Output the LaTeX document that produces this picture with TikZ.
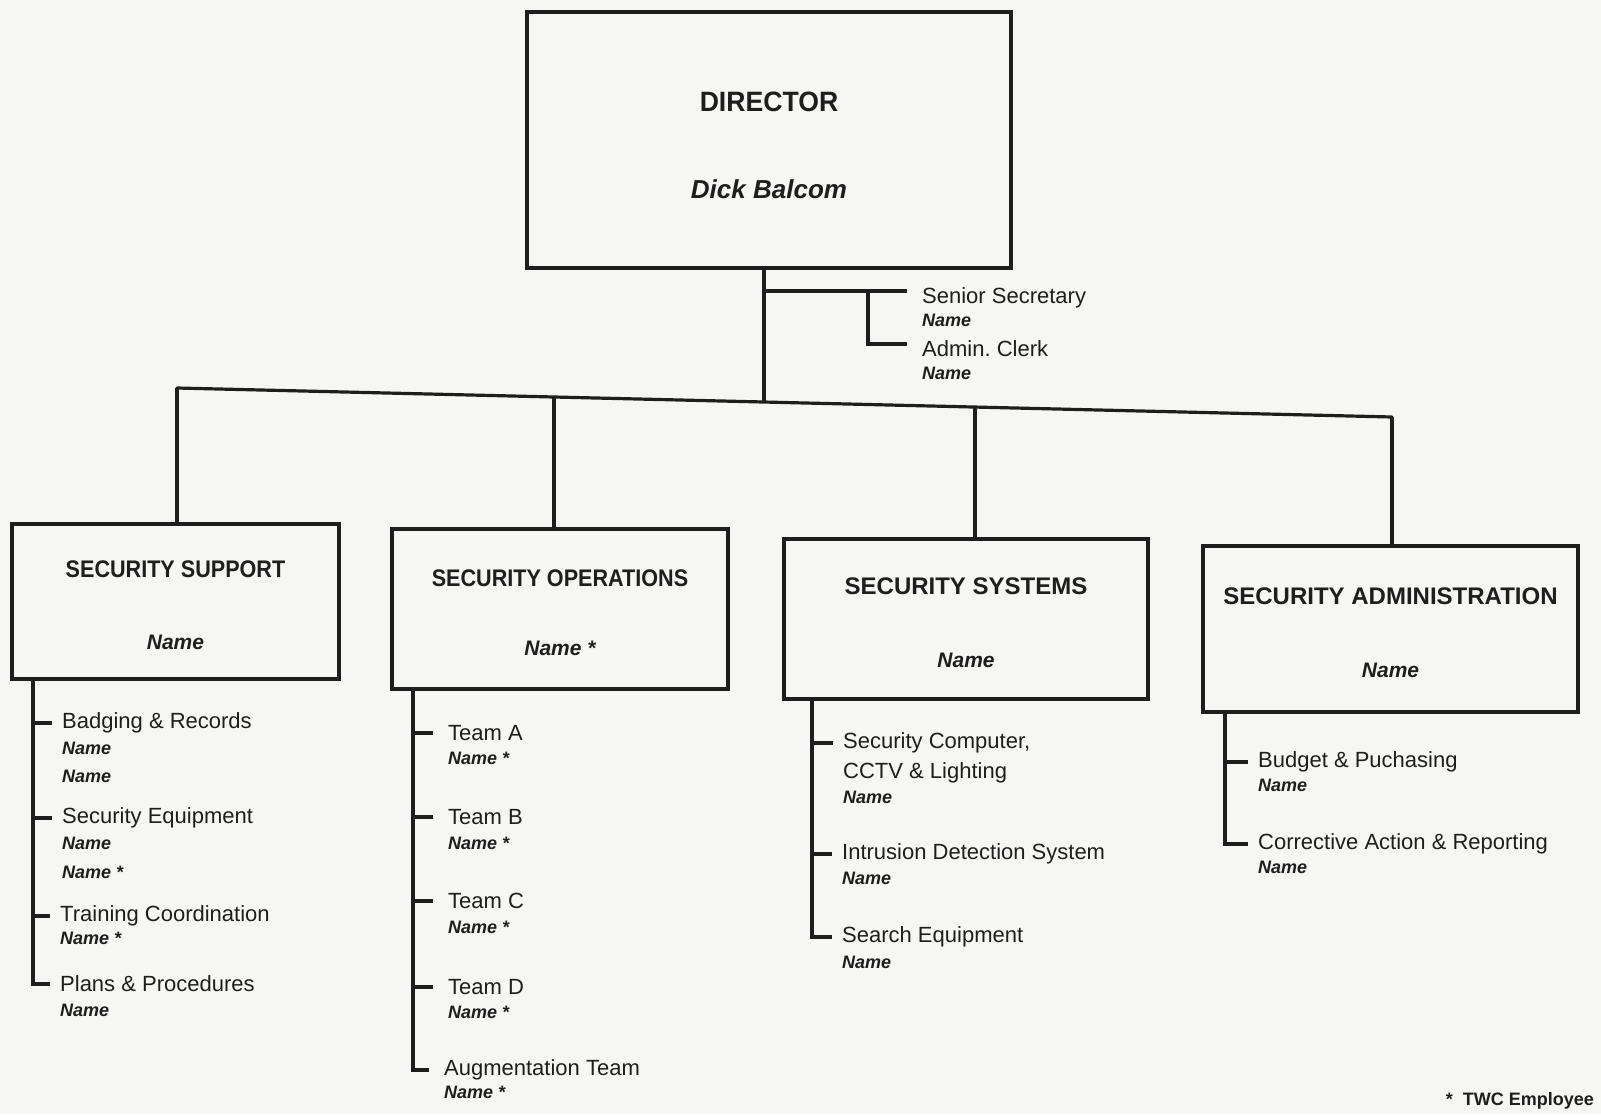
\documentclass[tikz,border=0pt]{standalone}
\usepackage{fontspec}
\setmainfont{Liberation Sans}
\newfontfamily\ttlfont[FakeStretch=0.9]{Liberation Sans}
\newfontfamily\dirfont[FakeStretch=0.95]{Liberation Sans}
\definecolor{ink}{RGB}{30,30,30}
\definecolor{paper}{RGB}{246,246,244}
\newcommand\dirf{\fontsize{28}{34}\selectfont\dirfont\bfseries}
\newcommand\deptf{\fontsize{24}{29}\selectfont\ttlfont\bfseries}
\newcommand\deptwf{\fontsize{24}{29}\selectfont\rmfamily\bfseries}
\newcommand\bnamef{\fontsize{21}{25}\selectfont\rmfamily\bfseries\itshape}
\newcommand\dnamef{\fontsize{26}{31}\selectfont\rmfamily\bfseries\itshape}
\newcommand\toppad[1]{\rule{0pt}{#1}}
\begin{document}
\begin{tikzpicture}[x=1pt,y=-1pt,
  box/.style={draw=ink, line width=3.2pt, rectangle, align=center, inner sep=0pt, text=ink},
  ln/.style={draw=ink, line width=3.2pt},
  tick/.style={ln, shorten >=10pt},
  tickw/.style={ln, shorten >=15pt},
  item/.style={anchor=west, inner sep=0pt, text=ink, font=\fontsize{22}{26}\selectfont},
  nm/.style={anchor=west, inner sep=0pt, text=ink, font=\fontsize{18}{21}\selectfont\bfseries\itshape}]
\fill[paper] (0,0) rectangle (1601,1114);
\useasboundingbox (0,0) rectangle (1601,1114);

% Director
\node[box, minimum width=484pt, minimum height=256pt, font=\dirf] (dir) at (769,140)
  {\toppad{30pt}DIRECTOR\\[53pt]{\dnamef Dick Balcom}};

% Secretaries
\coordinate (sb) at (764,291);
\coordinate (sv) at (868,291);
\coordinate (av) at (868,344);
\node[item] (sec) at (922,298) {Senior Secretary};
\node[nm] (secn) at (922,320) {Name};
\node[item] (adm) at (922,349) {Admin.\ Clerk};
\node[nm] (admn) at (922,373) {Name};
\draw[tickw] (sb) -- (sb -| sec.west);
\draw[tickw] (sv) -- (av) -- (av -| adm.west);

% Bus
\coordinate (bm) at (764,402);
\coordinate (b1) at (177,388);
\coordinate (b2) at (554,397);
\coordinate (b3) at (975,407);
\coordinate (b4) at (1392,417);
\draw[ln] (dir.south -| bm) -- (bm);
\draw[ln, line cap=round] (b1) -- (b4);

% Department boxes
\node[box, minimum width=327pt, minimum height=155pt, font=\deptf] (ss) at (175.5,601.5)
  {\toppad{25pt}SECURITY SUPPORT\\[43pt]{\bnamef Name}};
\node[box, minimum width=336pt, minimum height=160pt, font=\deptf] (so) at (560,609)
  {\toppad{25pt}SECURITY OPERATIONS\\[40pt]{\bnamef Name *}};
\node[box, minimum width=364pt, minimum height=160pt, font=\deptwf] (sy) at (966,619)
  {\toppad{25pt}SECURITY SYSTEMS\\[44pt]{\bnamef Name}};
\node[box, minimum width=375pt, minimum height=166pt, font=\deptwf] (sa) at (1390.5,629)
  {\toppad{25pt}SECURITY ADMINISTRATION\\[44pt]{\bnamef Name}};

\draw[ln] (b1) -- (b1 |- ss.north);
\draw[ln] (b2) -- (b2 |- so.north);
\draw[ln] (b3) -- (b3 |- sy.north);
\draw[ln] (b4) -- (b4 |- sa.north);

% Security Support
\coordinate (spt) at (33,679);
\node[item] (sp1) at (62,723) {Badging \& Records};
\node[nm] at (62,748) {Name};
\node[nm] at (62,776) {Name};
\node[item] (sp2) at (62,818) {Security Equipment};
\node[nm] at (62,843) {Name};
\node[nm] at (62,872) {Name *};
\node[item] (sp3) at (60,916) {Training Coordination};
\node[nm] at (60,938) {Name *};
\node[item] (sp4) at (60,984) {Plans \& Procedures};
\node[nm] at (60,1010) {Name};
\draw[tick] (spt) |- (sp4.west);
\foreach \i in {sp1,sp2,sp3} \draw[tick] (\i.west -| spt) -- (\i.west);

% Security Operations
\coordinate (sot) at (413,689);
\node[item] (so1) at (448,733) {Team A};
\node[nm] at (448,758) {Name *};
\node[item] (so2) at (448,817) {Team B};
\node[nm] at (448,843) {Name *};
\node[item] (so3) at (448,901) {Team C};
\node[nm] at (448,927) {Name *};
\node[item] (so4) at (448,987) {Team D};
\node[nm] at (448,1012) {Name *};
\node[item] (so5) at (444,1070) {Augmentation Team};
\node[nm] at (444,1092) {Name *};
\draw[tickw] (sot) |- (so5.west);
\foreach \i in {so1,so2,so3,so4} \draw[tickw] (\i.west -| sot) -- (\i.west);

% Security Systems
\coordinate (syt) at (812,699);
\node[item] (sy1) at (843,743) {Security Computer,};
\node[item] at (843,773) {CCTV \& Lighting};
\node[nm] at (843,797) {Name};
\node[item] (sy2) at (842,854) {Intrusion Detection System};
\node[nm] at (842,878) {Name};
\node[item] (sy3) at (842,937) {Search Equipment};
\node[nm] at (842,962) {Name};
\draw[tick] (syt) |- (sy3.west);
\foreach \i in {sy1,sy2} \draw[tick] (\i.west -| syt) -- (\i.west);

% Security Administration
\coordinate (sat) at (1225,712);
\node[item] (sa1) at (1258,762) {Budget \& Puchasing};
\node[nm] at (1258,785) {Name};
\node[item] (sa2) at (1258,844) {Corrective Action \& Reporting};
\node[nm] at (1258,867) {Name};
\draw[tick] (sat) |- (sa2.west);
\draw[tick] (sa1.west -| sat) -- (sa1.west);

% Footnote
\node[anchor=east, inner sep=0pt, text=ink, font=\fontsize{18}{21}\selectfont\bfseries] (fn) at (1594,1101) {*\ \ TWC Employee};
\end{tikzpicture}
\end{document}
